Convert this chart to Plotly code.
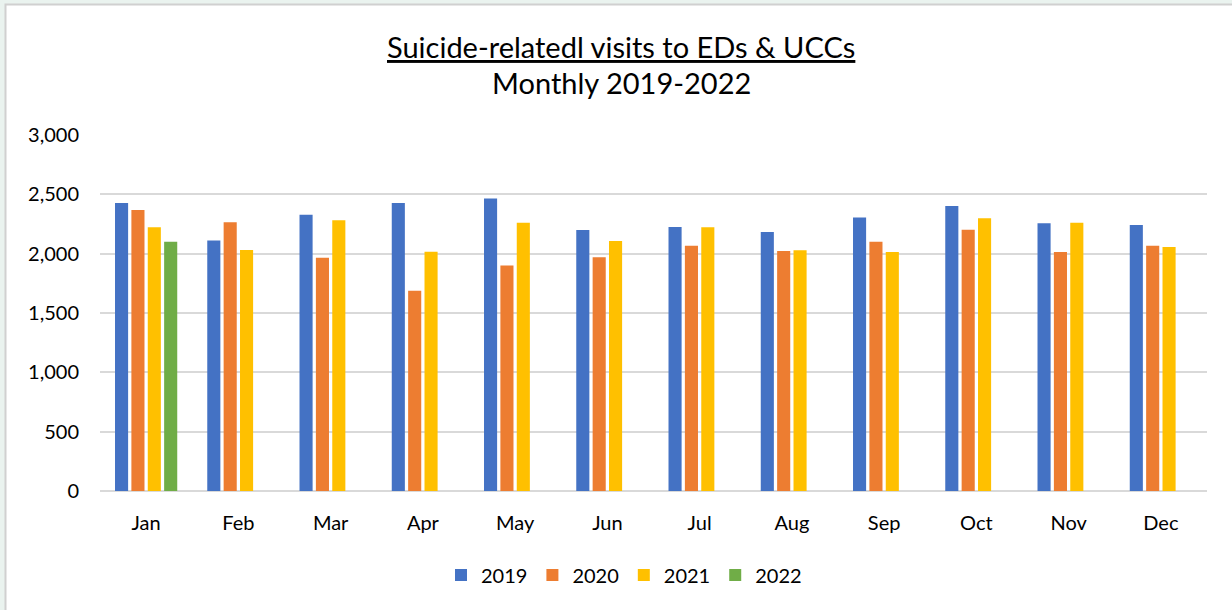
import plotly.graph_objects as go

months = ["Jan", "Feb", "Mar", "Apr", "May", "Jun", "Jul", "Aug", "Sep", "Oct", "Nov", "Dec"]
y2019 = [2427, 2110, 2329, 2427, 2464, 2200, 2225, 2183, 2304, 2402, 2256, 2242]
y2020 = [2369, 2264, 1966, 1688, 1901, 1969, 2067, 2022, 2101, 2202, 2014, 2067]
y2021 = [2222, 2030, 2281, 2017, 2261, 2107, 2222, 2028, 2014, 2298, 2261, 2056]
y2022 = [2101, None, None, None, None, None, None, None, None, None, None, None]
series = [("2019", y2019, "#4472C4"), ("2020", y2020, "#ED7D31"),
          ("2021", y2021, "#FFC000"), ("2022", y2022, "#70AD47")]
tickvals = [0, 500, 1000, 1500, 2000, 2500, 3000]

FONT = "Lato, Open Sans, sans-serif"
fig = go.Figure()
for name, vals, col in series:
    fig.add_trace(go.Bar(x=months, y=vals, name=name, marker_color=col,
                         marker_line_width=0))

L, R, T, B = 100, 1207, 135, 491
W, H = 1232, 610
def px(x):
    return (x - L) / (R - L)
def py(y):
    return (B - y) / (B - T)

fig.update_layout(
    width=W, height=H,
    margin=dict(l=L, r=W - R, t=T, b=H - B),
    paper_bgcolor="#EAF3EF", plot_bgcolor="white",
    barmode="group", bargap=0.29, bargroupgap=0.2,
    font=dict(family=FONT, size=20, color="#000000"),
    showlegend=True,
    legend=dict(orientation="h", x=px(624), xanchor="center", y=py(575), yanchor="middle",
                font=dict(size=20), itemwidth=30, traceorder="normal", bgcolor="rgba(0,0,0,0)"),
    shapes=[dict(type="rect", xref="paper", yref="paper", layer="below",
                 x0=px(5.5), x1=px(1240), y0=py(620), y1=py(4.5),
                 fillcolor="white", line=dict(color="#D0D0D0", width=2))],
    annotations=[
        dict(text="<u>Suicide-relatedl visits to EDs & UCCs</u>", xref="paper", yref="paper",
             x=px(621), y=py(46), xanchor="center", yanchor="middle",
             showarrow=False, font=dict(size=29, family=FONT)),
        dict(text="Monthly 2019-2022", xref="paper", yref="paper",
             x=px(621), y=py(82), xanchor="center", yanchor="middle",
             showarrow=False, font=dict(size=29, family=FONT)),
    ],
)
fig.update_yaxes(range=[0, 3000], tickvals=tickvals, tickformat=",d",
                 showgrid=True, gridcolor="#D9D9D9", gridwidth=1.5,
                 zeroline=True, zerolinecolor="#D9D9D9", zerolinewidth=1.5,
                 ticks="", ticklabelstandoff=20, showline=False)
fig.update_xaxes(showgrid=False, ticks="", ticklabelstandoff=18, showline=False)

fig.write_html("out.html", config={"displayModeBar": False},
               post_script="document.body.style.margin='0';document.body.style.overflow='hidden';")
